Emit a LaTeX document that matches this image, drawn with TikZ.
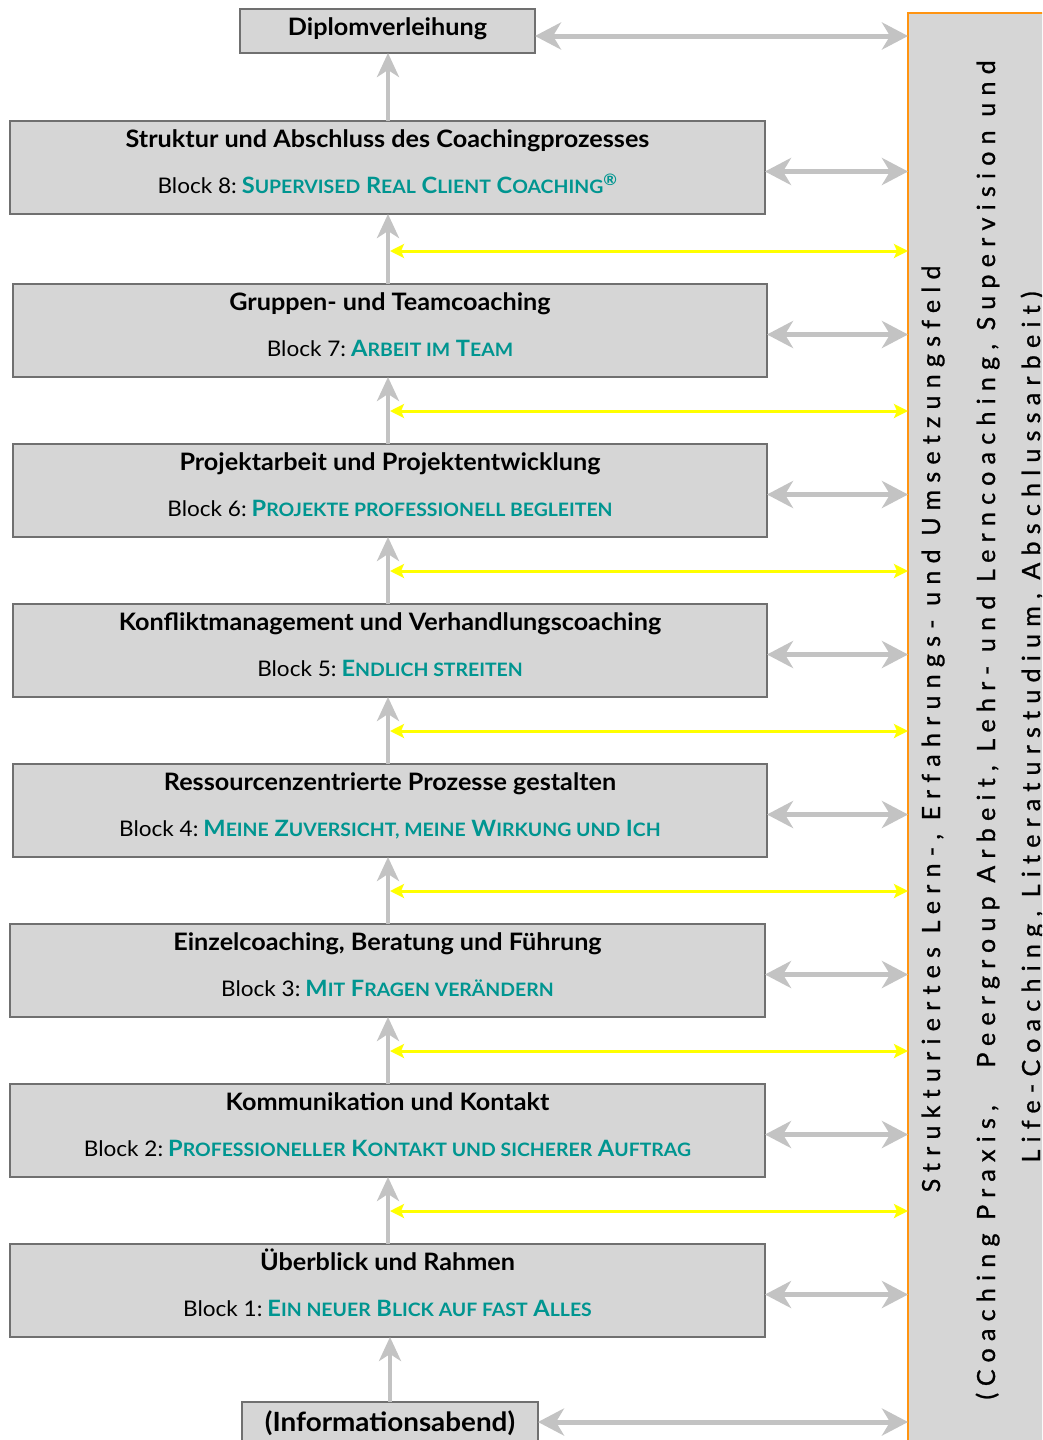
\documentclass[tikz,border=0pt]{standalone}
\usepackage{fontspec}
\setmainfont[FakeStretch=1.05]{Lato}
\newfontfamily\panelfont[LetterSpace=29,FakeBold=1]{Lato}
\usetikzlibrary{arrows.meta,calc}
\definecolor{boxgray}{HTML}{D6D6D6}
\definecolor{boxline}{HTML}{707070}
\definecolor{arrgray}{HTML}{C3C3C3}
\definecolor{tealc}{HTML}{009590}
\definecolor{panelorange}{HTML}{FF9412}
\definecolor{yel}{HTML}{FFFF00}
\newcommand\smc[1]{{\fontsize{18.5}{21}\selectfont #1}}
\newcommand\tl[1]{\hspace{5pt}\textcolor{tealc}{\fontsize{22.5}{25}\selectfont\bfseries #1}}
\newcommand\blockrow[6]{%
  \node[blockbox, minimum width=#3-#2, minimum height=93] (#1) at (#2,#4) {};
  \node[titletext] (#1t) at ($(#1.north)+(0,26)$) {#5};
  \node[subtext] (#1s) at ($(#1.north)+(0,72)$) {#6};
}
\begin{document}
\begin{tikzpicture}[x=1pt,y=-1pt,
  blockbox/.style={draw=boxline, line width=1.2pt, fill=boxgray, inner sep=0pt, outer sep=0pt, anchor=north west},
  titletext/.style={font=\fontsize{24}{28}\selectfont\bfseries, inner sep=0pt, anchor=base},
  subtext/.style={font=\fontsize{21.5}{25}\selectfont, inner sep=0pt, anchor=base},
  paneltext/.style={font=\panelfont\fontsize{25}{30}\selectfont, inner sep=0pt, anchor=base, rotate=90},
  varrow/.style={draw=arrgray, line width=4pt, arrows={-Stealth[length=24pt,width=22pt,inset=7pt]}},
  harrow/.style={draw=arrgray, line width=5pt, arrows={Stealth[length=26pt,width=27pt,inset=8pt]-Stealth[length=26pt,width=27pt,inset=8pt]}},
  yarrow/.style={draw=yel, line width=3pt, arrows={Stealth[length=14pt,width=14pt,inset=3pt]-Stealth[length=14pt,width=14pt,inset=3pt]}}
]
\clip (0,0) rectangle (1042,1440);
\fill[white] (0,0) rectangle (1042,1440);

% right panel
\node[draw=panelorange, line width=2pt, fill=boxgray, inner sep=0pt, outer sep=0pt, anchor=north west,
      minimum width=170, minimum height=1460] (panel) at (908,13) {};
\node[paneltext] (pl1) at (940,729) {Strukturiertes Lern-, Erfahrungs- und Umsetzungsfeld};
\node[paneltext] (pl2) at (995,730) {(Coaching Praxis,\hspace{24pt} Peergroup Arbeit, Lehr- und Lerncoaching, Supervision und};
\node[paneltext] (pl3) at (1040,727) {Life-Coaching, Literaturstudium, Abschlussarbeit)};

% top and bottom boxes
\node[blockbox, minimum width=295, minimum height=44] (dip) at (240,9) {};
\node[titletext] (dipt) at ($(dip.north)+(0,26)$) {Diplomverleihung};
\node[blockbox, minimum width=296, minimum height=60] (info) at (242,1402) {};
\node[titletext, font=\fontsize{26.5}{30}\selectfont\bfseries] (infot) at (390,1431) {(Informationsabend)};

\blockrow{b8}{10}{765}{121}{Struktur und Abschluss des Coachingprozesses}{Block 8:\tl{S\smc{UPERVISED} R\smc{EAL} C\smc{LIENT} C\smc{OACHING}\textsuperscript{®}}}
\blockrow{b7}{13}{767}{284}{Gruppen- und Teamcoaching}{Block 7:\tl{A\smc{RBEIT IM} T\smc{EAM}}}
\blockrow{b6}{13}{767}{444}{Projektarbeit und Projektentwicklung}{Block 6:\tl{P\smc{ROJEKTE PROFESSIONELL BEGLEITEN}}}
\blockrow{b5}{13}{767}{604}{Konfliktmanagement und Verhandlungscoaching}{Block 5:\tl{E\smc{NDLICH STREITEN}}}
\blockrow{b4}{13}{767}{764}{Ressourcenzentrierte Prozesse gestalten}{Block 4:\tl{M\smc{EINE} Z\smc{UVERSICHT, MEINE} W\smc{IRKUNG UND} I\smc{CH}}}
\blockrow{b3}{10}{765}{924}{Einzelcoaching, Beratung und Führung}{Block 3:\tl{M\smc{IT} F\smc{RAGEN VERÄNDERN}}}
\blockrow{b2}{10}{765}{1084}{Kommunikation und Kontakt}{Block 2:\tl{P\smc{ROFESSIONELLER} K\smc{ONTAKT UND SICHERER} A\smc{UFTRAG}}}
\blockrow{b1}{10}{765}{1244}{Überblick und Rahmen}{Block 1:\tl{E\smc{IN NEUER} B\smc{LICK AUF FAST} A\smc{LLES}}}

% spine x
\coordinate (ax) at (388,0);
\coordinate (axi) at (390,0);

% vertical arrows
\draw[varrow] (info.north -| axi) -- (b1.south -| axi);
\draw[varrow] (b1.north -| ax) -- (b2.south -| ax);
\draw[varrow] (b2.north -| ax) -- (b3.south -| ax);
\draw[varrow] (b3.north -| ax) -- (b4.south -| ax);
\draw[varrow] (b4.north -| ax) -- (b5.south -| ax);
\draw[varrow] (b5.north -| ax) -- (b6.south -| ax);
\draw[varrow] (b6.north -| ax) -- (b7.south -| ax);
\draw[varrow] (b7.north -| ax) -- (b8.south -| ax);
\draw[varrow] (b8.north -| ax) -- (dip.south -| ax);

% yellow arrows
\foreach \yy in {251,411,571,731,891,1051,1211}{
  \draw[yarrow] (390,\yy) -- (panel.west |- 0,\yy);
}

% gray horizontal arrows
\draw[harrow] ($(dip.east)+(0,5)$) -- (panel.west |- 0,36);
\foreach \b in {b8,b7,b6,b5,b4,b3,b2,b1}{
  \draw[harrow] ($(\b.east)+(0,4)$) -- ($(\b.east -| panel.west)+(0,4)$);
}
\draw[harrow] (info.east |- 0,1422) -- (panel.west |- 0,1422);
\end{tikzpicture}
\end{document}
